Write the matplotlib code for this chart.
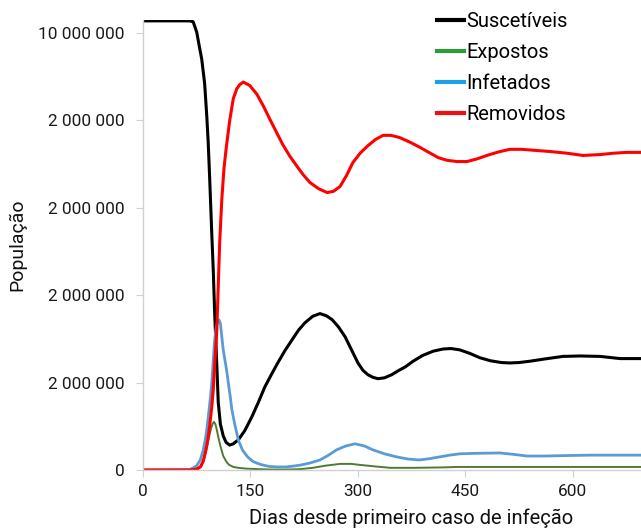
import numpy as np
import matplotlib
matplotlib.use("Agg")
import matplotlib.pyplot as plt
from matplotlib.lines import Line2D

# valores, em milhoes de pessoas
dias_s = [0, 65, 70, 75, 78, 82, 86, 89, 91, 93, 96, 98, 100, 103, 105, 108, 112, 116, 121, 126,
          133, 142, 152, 161, 170, 179, 188, 198, 208, 217, 226, 237, 247, 256, 264, 273, 282, 291,
          300, 307, 314, 321, 328, 337, 347, 356, 366, 377, 390, 405, 419, 430, 442, 456, 470, 485,
          500, 512, 525, 540, 560, 586, 610, 638, 666, 695]
suscetiveis = [10.28, 10.28, 10.26, 10.02, 9.75, 9.4, 8.85, 8.1, 7.5, 6.7, 5.4, 4.6, 3.6, 2.4, 1.55,
               1.05, 0.78, 0.63, 0.57, 0.6, 0.69, 0.9, 1.22, 1.55, 1.9, 2.18, 2.45, 2.73, 2.98, 3.2,
               3.37, 3.52, 3.58, 3.53, 3.44, 3.27, 3.05, 2.75, 2.45, 2.28, 2.18, 2.12, 2.09, 2.11,
               2.18, 2.27, 2.36, 2.49, 2.62, 2.72, 2.77, 2.78, 2.75, 2.67, 2.57, 2.5, 2.46, 2.45,
               2.46, 2.49, 2.54, 2.6, 2.61, 2.6, 2.55, 2.55]

dias_e = [0, 65, 72, 78, 82, 86, 89, 92, 95, 97, 99, 101, 103, 105, 108, 112, 116, 120, 126, 133,
          145, 160, 180, 200, 220, 237, 255, 275, 290, 307, 325, 345, 380, 420, 440, 695]
expostos = [0, 0, 0.01, 0.04, 0.1, 0.3, 0.5, 0.75, 0.95, 1.05, 1.1, 1.05, 0.92, 0.76, 0.55, 0.32,
            0.2, 0.12, 0.07, 0.05, 0.03, 0.02, 0.01, 0.01, 0.02, 0.05, 0.1, 0.14, 0.14, 0.11, 0.08,
            0.05, 0.05, 0.06, 0.07, 0.07]

dias_i = [0, 65, 70, 75, 80, 84, 87, 89, 92, 94, 96, 98, 100, 102, 104, 106, 108, 110, 112, 114,
          117, 119, 122, 124, 128, 133, 139, 146, 153, 160, 168, 177, 188, 200, 210, 219, 233, 247,
          258, 270, 283, 296, 309, 321, 337, 354, 370, 386, 400, 414, 428, 442, 460, 498, 516, 536,
          560, 590, 624, 660, 695]
infetados = [0, 0.01, 0.05, 0.1, 0.23, 0.45, 0.7, 0.92, 1.35, 1.65, 2.0, 2.5, 2.98, 3.25, 3.4,
             3.44, 3.35, 3.05, 2.75, 2.55, 2.25, 2.0, 1.65, 1.38, 1.05, 0.69, 0.45, 0.3, 0.2, 0.15,
             0.11, 0.08, 0.07, 0.07, 0.09, 0.11, 0.16, 0.23, 0.33, 0.46, 0.55, 0.6, 0.55, 0.46,
             0.37, 0.3, 0.25, 0.23, 0.26, 0.3, 0.34, 0.37, 0.38, 0.39, 0.36, 0.32, 0.32, 0.33,
             0.34, 0.34, 0.34]

dias_r = [0, 65, 72, 76, 80, 84, 87, 90, 93, 96, 98, 100, 103, 105, 107, 110, 113, 116, 121, 126,
          131, 135, 140, 149, 159, 168, 177, 186, 195, 205, 215, 224, 233, 245, 257, 266, 275, 284,
          293, 303, 313, 324, 335, 346, 358, 373, 386, 400, 412, 424, 438, 452, 466, 480, 496, 512,
          528, 544, 568, 592, 614, 638, 656, 675, 695]
removidos = [0, 0, 0.01, 0.03, 0.07, 0.2, 0.4, 0.65, 1.0, 1.45, 1.83, 2.4, 3.2, 4.2, 5.2, 6.2, 6.9,
             7.35, 8.0, 8.5, 8.73, 8.82, 8.88, 8.8, 8.6, 8.33, 8.03, 7.74, 7.45, 7.18, 6.95, 6.75,
             6.58, 6.44, 6.35, 6.38, 6.49, 6.74, 7.04, 7.25, 7.41, 7.56, 7.66, 7.66, 7.61, 7.5,
             7.39, 7.26, 7.15, 7.09, 7.06, 7.06, 7.12, 7.2, 7.28, 7.34, 7.34, 7.32, 7.29, 7.25,
             7.2, 7.22, 7.25, 7.27, 7.27]

yticks = [0, 2e6, 4e6, 6e6, 8e6, 10e6]
ytick_labels = ["0", "2 000 000", "2 000 000", "2 000 000", "2 000 000", "10 000 000"]
xticks = [0, 150, 300, 450, 600]

nomes = ["Suscetíveis", "Expostos", "Infetados", "Removidos"]
cores_linha = ["#000000", "#4f7a36", "#5b9bd5", "#ff0000"]
cores_legenda = ["#000000", "#2e9a3a", "#1ea0e6", "#ee1111"]
larguras = [2.2, 1.4, 2.0, 2.2]

plt.rcParams['font.family'] = ['Roboto', 'DejaVu Sans']
fonte_estreita = ['Liberation Sans Narrow', 'Roboto', 'DejaVu Sans']

fig = plt.figure(figsize=(6.41, 5.28), dpi=100)
ax1 = fig.add_axes([143/641, 58/528, 498/641, 450/528])

series = [(dias_s, suscetiveis), (dias_e, expostos), (dias_i, infetados), (dias_r, removidos)]
for (x, y), cor, lw in zip(series, cores_linha, larguras):
    ax1.plot(x, np.array(y) * 1e6, color=cor, lw=lw, solid_joinstyle='round')

ax1.set_xlim(0, 695)
ax1.set_ylim(0, 10.3e6)
ax1.set_yticks(yticks)
ax1.set_yticklabels(ytick_labels)
ax1.set_xticks(xticks)
ax1.tick_params(axis='both', colors='#d0d0d0', labelcolor='#1a1a1a', labelsize=12.4, length=5)
ax1.tick_params(axis='y', pad=8)
ax1.tick_params(axis='x', pad=5)
for s in ['top', 'right']:
    ax1.spines[s].set_visible(False)
for s in ['left', 'bottom']:
    ax1.spines[s].set_color('#d0d0d0')
    ax1.spines[s].set_linewidth(1.0)

ax1.set_xlabel("Dias desde primeiro caso de infeção", fontsize=14.5, family=fonte_estreita, color='#111111')
ax1.xaxis.set_label_coords(0.538, -0.085)
ax1.set_ylabel("População", fontsize=14, color='#111111')
ax1.yaxis.set_label_coords(-0.234, 0.5)

handles = [Line2D([], [], color=c, lw=3) for c in cores_legenda]
ax1.legend(handles, nomes, loc='upper left', bbox_to_anchor=(0.575, 1.035), frameon=False,
           prop={'family': fonte_estreita, 'size': 14.5}, handlelength=1.3, handletextpad=0.15,
           labelspacing=0.59, borderaxespad=0)

fig.savefig("out.png", dpi=100)
